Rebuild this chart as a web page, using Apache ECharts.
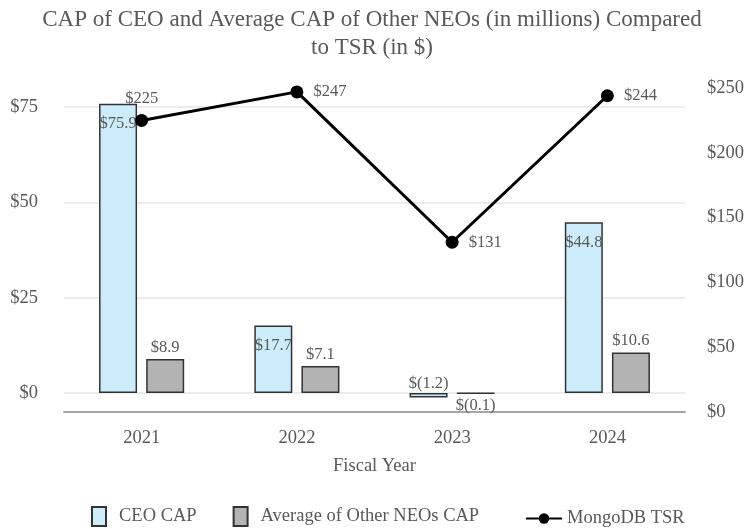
<!DOCTYPE html>
<html>
<head>
<meta charset="utf-8">
<script src="https://cdn.jsdelivr.net/npm/echarts@6/dist/echarts.min.js"></script>
<style>
  html, body { margin: 0; padding: 0; background: #fff; }
  #main { width: 744px; height: 529px; }
</style>
</head>
<body>
<div id="main"></div>
<script>
// chart data
var years = ['2021', '2022', '2023', '2024'];
var ceoCap = [75.9, 17.7, -1.2, 44.8];
var neoCap = [8.9, 7.1, -0.1, 10.6];
var tsr = [225, 247, 131, 244];
var leftTicks = [0, 25, 50, 75];

var FONT = '"Liberation Serif", "Times New Roman", serif';
var TXT = '#595959';

function money(v) {
  return v < 0 ? '$(' + Math.abs(v).toFixed(1) + ')' : '$' + v.toFixed(1);
}

var chart = echarts.init(document.getElementById('main'));

var ceoData = ceoCap.map(function (v) {
  return { value: v, label: { position: v < 0 ? 'top' : 'insideTop', distance: v < 0 ? 1 : 12 } };
});
var neoData = neoCap.map(function (v) {
  return { value: v, label: { position: v < 0 ? 'bottom' : 'top', distance: 3 } };
});
var tsrData = tsr.map(function (v, i) {
  return { value: v, label: { position: i === 0 ? 'top' : 'right', distance: i === 0 ? 7 : 10 } };
});

chart.setOption({
  backgroundColor: '#fff',
  textStyle: { fontFamily: FONT },
  title: {
    text: 'CAP of CEO and Average CAP of Other NEOs (in millions) Compared\nto TSR (in $)',
    left: 'center',
    top: 1,
    textStyle: { fontFamily: FONT, fontSize: 23, fontWeight: 'normal', color: TXT, lineHeight: 28 }
  },
  legend: [{
    top: 501,
    left: 86,
    icon: 'rect',
    itemWidth: 14,
    itemHeight: 19,
    itemGap: 36,
    data: ['CEO CAP', 'Average of Other NEOs CAP'],
    textStyle: { fontFamily: FONT, fontSize: 18.5, color: TXT, padding: [0, 0, 0, 8] }
  }, {
    top: 504,
    left: 520,
    itemWidth: 36,
    itemHeight: 13,
    data: ['MongoDB TSR'],
    textStyle: { fontFamily: FONT, fontSize: 18.5, color: TXT }
  }],
  grid: { left: 64, right: 59, top: 88, bottom: 117, outerBoundsMode: 'none' },
  xAxis: {
    type: 'category',
    data: years,
    name: 'Fiscal Year',
    nameLocation: 'middle',
    nameGap: 45,
    nameTextStyle: { fontFamily: FONT, fontSize: 18.5, color: TXT },
    axisLine: { onZero: false, lineStyle: { color: '#a6a6a6', width: 2 } },
    axisTick: { show: false },
    axisLabel: { margin: 17, fontFamily: FONT, fontSize: 18.5, color: TXT }
  },
  yAxis: [{
    type: 'value',
    min: -5,
    max: 80,
    interval: 5,
    axisLine: { show: false },
    axisTick: { show: false },
    axisLabel: {
      margin: 26,
      fontFamily: FONT, fontSize: 18.5, color: TXT,
      formatter: function (v) { return leftTicks.indexOf(v) >= 0 ? '$' + v : ''; }
    },
    splitLine: {
      show: true,
      lineStyle: { color: ['rgba(0,0,0,0)', '#e6e6e6', 'rgba(0,0,0,0)', 'rgba(0,0,0,0)', 'rgba(0,0,0,0)'], width: 1.5 }
    }
  }, {
    type: 'value',
    min: 0,
    max: 250,
    interval: 50,
    axisLine: { show: false },
    axisTick: { show: false },
    splitLine: { show: false },
    axisLabel: {
      margin: 22,
      fontFamily: FONT, fontSize: 18.5, color: TXT,
      formatter: function (v) { return '$' + v; }
    }
  }],
  series: [{
    name: 'CEO CAP',
    type: 'bar',
    yAxisIndex: 0,
    barWidth: 38,
    barGap: '24%',
    data: ceoData,
    itemStyle: { color: '#ccecfc', borderColor: '#333', borderWidth: 1.5 },
    label: {
      show: true, fontFamily: FONT, fontSize: 16.5, color: TXT,
      formatter: function (p) { return money(p.value); }
    },
    z: 3
  }, {
    name: 'Average of Other NEOs CAP',
    type: 'bar',
    yAxisIndex: 0,
    barWidth: 38,
    data: neoData,
    itemStyle: { color: '#b3b3b3', borderColor: '#333', borderWidth: 1.5 },
    label: {
      show: true, fontFamily: FONT, fontSize: 16.5, color: TXT,
      formatter: function (p) { return money(p.value); }
    },
    z: 3
  }, {
    name: 'MongoDB TSR',
    type: 'line',
    yAxisIndex: 1,
    data: tsrData,
    symbol: 'circle',
    symbolSize: 13,
    itemStyle: { color: '#000' },
    lineStyle: { color: '#000', width: 3 },
    label: {
      show: true, fontFamily: FONT, fontSize: 16.5, color: TXT,
      formatter: function (p) { return '$' + p.value; }
    },
    z: 5
  }]
});
</script>
</body>
</html>
